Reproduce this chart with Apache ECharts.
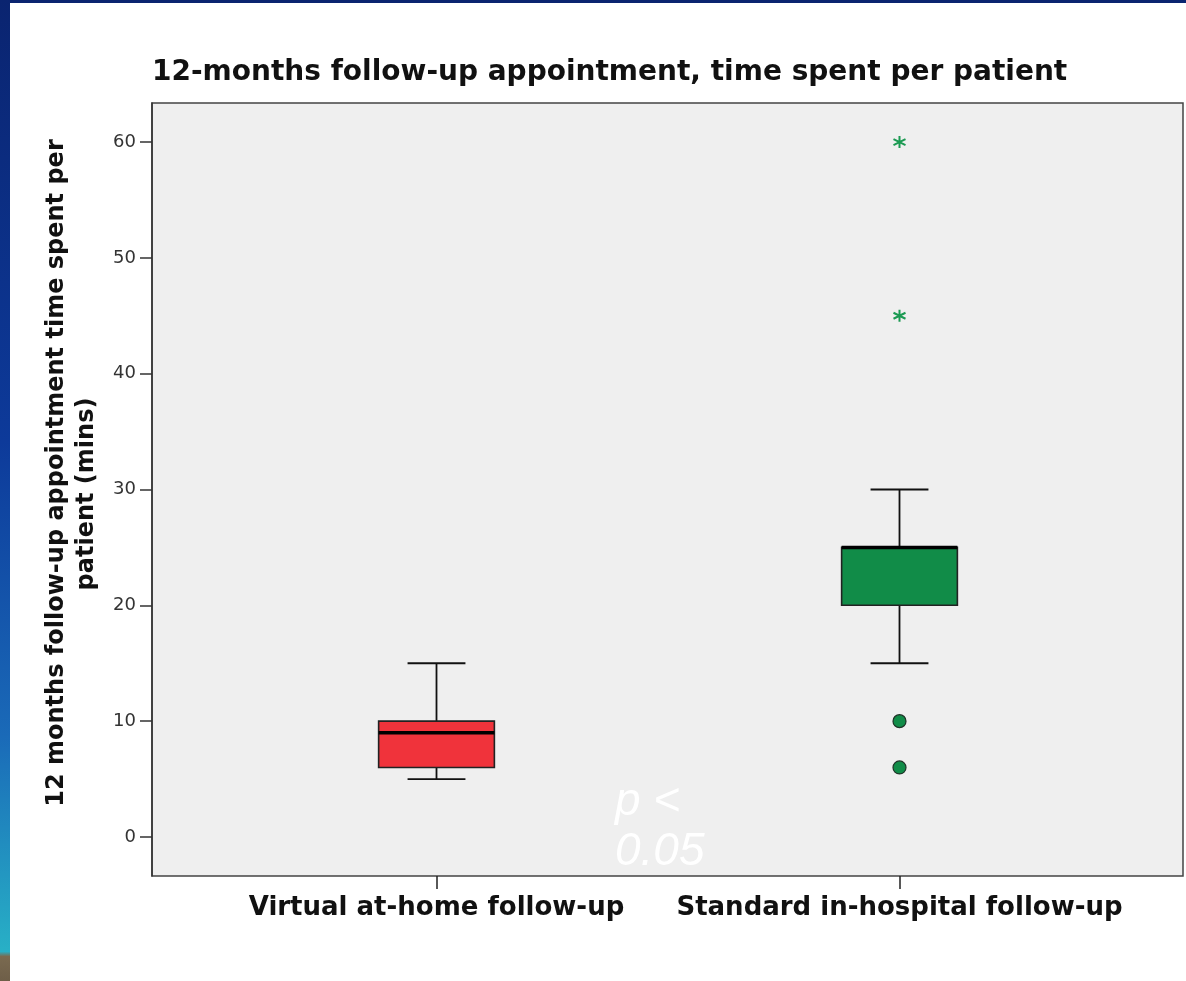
<!DOCTYPE html>
<html><head><meta charset="utf-8">
<script src="https://cdn.jsdelivr.net/npm/echarts@6/dist/echarts.min.js"></script>
<style>html,body{margin:0;padding:0;background:#fff}#c{width:1186px;height:981px}</style>
</head><body><div id="c"></div>
<script>
const categories = ['Virtual at-home follow-up', 'Standard in-hospital follow-up'];
// [low whisker, Q1, median, Q3, high whisker]
const boxStats = [
  [5, 6, 9, 10, 15],
  [15, 20, 25, 25, 30]
];
const boxColors = ['#f0333b', '#118c48'];
const outlierCircles = [[1, 10], [1, 6]];
const outlierStars = [[1, 45], [1, 60]];
const yTicks = [0, 10, 20, 30, 40, 50, 60];
const titleText = '12-months follow-up appointment, time spent per patient';
const yTitle1 = '12 months follow-up appointment time spent per';
const yTitle2 = 'patient (mins)';

const Y_MIN = -3.37, Y_MAX = 63.37;
const FONT = 'DejaVu Sans';
const chart = echarts.init(document.getElementById('c'), null, {renderer: 'canvas'});

const boxData = boxStats.map((s, i) => [i].concat(s));

chart.setOption({
  animation: false,
  backgroundColor: '#ffffff',
  title: {
    text: titleText, left: 147, top: 54,
    textStyle: {fontFamily: FONT, fontSize: 28, fontWeight: 'bold', color: '#111'}
  },
  grid: [
    {left: 152, top: 103, width: 1031, height: 773, show: true, backgroundColor: '#efefef', borderColor: '#444', borderWidth: 1.5},
    {left: 205, top: 103, width: 926, height: 773}
  ],
  xAxis: [
    {gridIndex: 0, type: 'value', show: false, min: 0, max: 1},
    {gridIndex: 1, type: 'category', data: categories, boundaryGap: true, position: 'bottom',
      axisLine: {show: false, onZero: false},
      axisTick: {show: true, alignWithLabel: true, length: 13, lineStyle: {color: '#222', width: 1.5}},
      axisLabel: {interval: 0, fontFamily: FONT, fontSize: 26, fontWeight: 'bold', color: '#111', margin: 19},
      splitLine: {show: false}}
  ],
  yAxis: [
    {gridIndex: 0, type: 'value', min: Y_MIN, max: Y_MAX,
      axisLine: {show: true, lineStyle: {color: '#333', width: 1.5}},
      axisTick: {show: true, length: 12, customValues: yTicks, lineStyle: {color: '#333', width: 1.5}},
      axisLabel: {customValues: yTicks, fontFamily: FONT, fontSize: 18, color: '#333', margin: 16},
      splitLine: {show: false}},
    {gridIndex: 1, type: 'value', min: Y_MIN, max: Y_MAX, show: false}
  ],
  graphic: [
    {type: 'rect', left: 0, top: 0, z: 100, shape: {width: 1186, height: 3}, style: {fill: '#0a2470'}},
    {type: 'rect', left: 0, top: 0, z: 100, shape: {width: 10, height: 981},
      style: {fill: new echarts.graphic.LinearGradient(0, 0, 0, 1, [
        {offset: 0, color: '#0a2470'}, {offset: 0.45, color: '#0d3a9a'},
        {offset: 0.75, color: '#1a6ab8'}, {offset: 0.97, color: '#28b0c6'},
        {offset: 0.975, color: '#7a6a50'}, {offset: 1, color: '#6e5e48'}])}},
    {type: 'text', x: 57, y: 473, rotation: Math.PI / 2, z: 50,
      style: {text: yTitle1, fontFamily: FONT, fontSize: 24, fontWeight: 'bold', fill: '#111', align: 'center', verticalAlign: 'middle'}},
    {type: 'text', x: 87, y: 494, rotation: Math.PI / 2, z: 50,
      style: {text: yTitle2, fontFamily: FONT, fontSize: 24, fontWeight: 'bold', fill: '#111', align: 'center', verticalAlign: 'middle'}},
    {type: 'text', x: 615, y: 777, z: 50,
      style: {text: 'p <\n0.05', fontFamily: 'Liberation Sans', fontSize: 46, fontStyle: 'italic', lineHeight: 50, fill: '#ffffff', align: 'left', verticalAlign: 'top'}}
  ],
  series: [
    {
      type: 'custom', xAxisIndex: 1, yAxisIndex: 1, data: boxData, z: 5,
      renderItem: function (params, api) {
        const i = api.value(0);
        const bw = api.size([1, 0])[0] * 0.25;
        const pLow = api.coord([i, api.value(1)]);
        const pQ1 = api.coord([i, api.value(2)]);
        const pMed = api.coord([i, api.value(3)]);
        const pQ3 = api.coord([i, api.value(4)]);
        const pHigh = api.coord([i, api.value(5)]);
        const cx = pMed[0];
        const ls = {stroke: '#111', lineWidth: 1.8};
        return {
          type: 'group',
          children: [
            {type: 'line', shape: {x1: cx, y1: pLow[1], x2: cx, y2: pQ1[1]}, style: ls},
            {type: 'line', shape: {x1: cx, y1: pQ3[1], x2: cx, y2: pHigh[1]}, style: ls},
            {type: 'line', shape: {x1: cx - bw / 4, y1: pLow[1], x2: cx + bw / 4, y2: pLow[1]}, style: ls},
            {type: 'line', shape: {x1: cx - bw / 4, y1: pHigh[1], x2: cx + bw / 4, y2: pHigh[1]}, style: ls},
            {type: 'rect', shape: {x: cx - bw / 2, y: pQ3[1], width: bw, height: pQ1[1] - pQ3[1]},
              style: {fill: boxColors[i], stroke: '#222', lineWidth: 1.6}},
            {type: 'line', shape: {x1: cx - bw / 2, y1: pMed[1], x2: cx + bw / 2, y2: pMed[1]}, style: {stroke: '#000', lineWidth: 3.5}}
          ]
        };
      }
    },
    {
      type: 'scatter', xAxisIndex: 1, yAxisIndex: 1, data: outlierCircles, z: 6,
      symbol: 'circle', symbolSize: 13,
      itemStyle: {color: '#118c48', borderColor: '#1e3327', borderWidth: 1.2, opacity: 1}
    },
    {
      type: 'scatter', xAxisIndex: 1, yAxisIndex: 1, data: outlierStars, z: 6,
      symbol: 'path://M0,-10 L0,10 M-8.66,-5 L8.66,5 M-8.66,5 L8.66,-5',
      symbolSize: 12,
      itemStyle: {color: 'none', borderColor: '#1b9a52', borderWidth: 2, opacity: 1}
    }
  ]
});
</script></body></html>
